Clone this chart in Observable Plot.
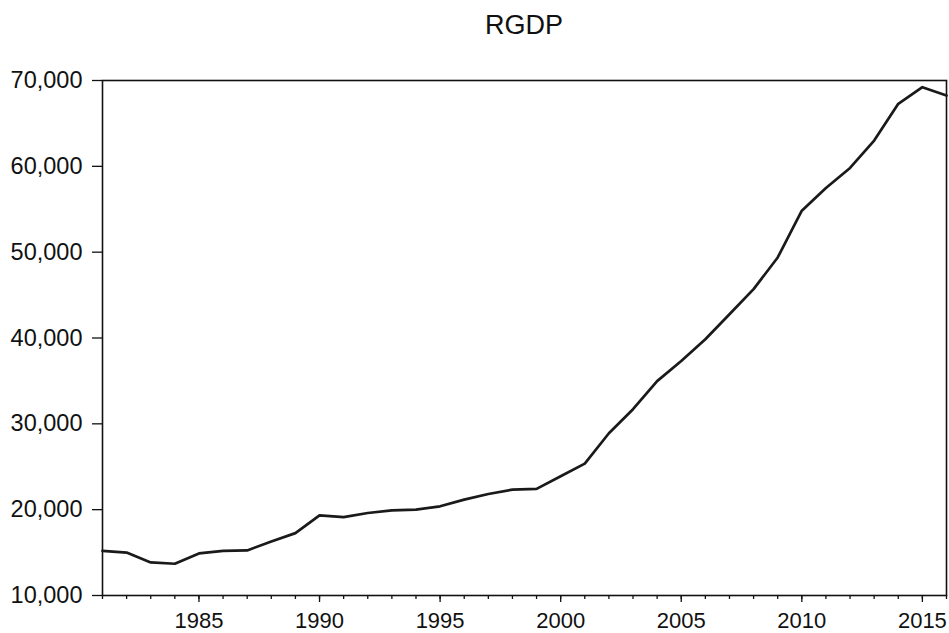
<!DOCTYPE html>
<html>
<head>
<meta charset="utf-8">
<script src="https://cdn.jsdelivr.net/npm/d3@7"></script>
<script src="https://cdn.jsdelivr.net/npm/@observablehq/plot@0.6"></script>
<style>
  html, body { margin: 0; padding: 0; background: #fff; }
  #wrap { width: 949px; height: 633px; position: relative; overflow: hidden; }
  #title { height: 50px; line-height: 50px; box-sizing: border-box; padding-left: 102px; padding-right: 3px;
           text-align: center; font-family: "Liberation Sans", Arial, sans-serif; font-size: 27px; color: #111; }
</style>
</head>
<body>
<div id="wrap">
  <div id="title">RGDP</div>
  <div id="chart"></div>
</div>
<script>
const years = [1981,1982,1983,1984,1985,1986,1987,1988,1989,1990,
               1991,1992,1993,1994,1995,1996,1997,1998,1999,2000,
               2001,2002,2003,2004,2005,2006,2007,2008,2009,2010,
               2011,2012,2013,2014,2015,2016];
const rgdp = [15200,15000,13850,13700,14900,15200,15250,16300,17270,19340,
              19140,19610,19920,20000,20390,21170,21830,22340,22420,23890,
              25370,28900,31700,34980,37320,39850,42770,45690,49380,54830,
              57480,59810,63000,67280,69220,68250];
const majorYears = [1985,1990,1995,2000,2005,2010,2015];
const yTicks = [10000,20000,30000,40000,50000,60000,70000];

const data = years.map((y, i) => ({year: y, value: rgdp[i]}));
const fmt = d3.format(",");

const chart = Plot.plot({
  width: 949,
  height: 583,
  marginTop: 30,
  marginBottom: 38,
  marginLeft: 102,
  marginRight: 3,
  style: {fontFamily: "'Liberation Sans', Arial, sans-serif", fontSize: "22px", color: "#111", background: "#fff"},
  x: {domain: [1981, 2016]},
  y: {domain: [10000, 70000]},
  marks: [
    Plot.axisY({ticks: yTicks, tickFormat: fmt, tickSize: 10, tickPadding: 10, label: null, fontSize: 23.5, strokeWidth: 1.3}),
    Plot.axisX({ticks: years, tickFormat: () => "", tickSize: 4, label: null, strokeWidth: 1.3}),
    Plot.axisX({ticks: majorYears, tickFormat: d => String(d), tickSize: 7, tickPadding: 10, label: null, fontSize: 22, strokeWidth: 1.3}),
    Plot.frame({stroke: "#111", strokeWidth: 1.6}),
    Plot.line(data, {x: "year", y: "value", stroke: "#1a1a1a", strokeWidth: 2.7, strokeLinejoin: "round"})
  ]
});
document.getElementById("chart").appendChild(chart);
</script>
</body>
</html>
